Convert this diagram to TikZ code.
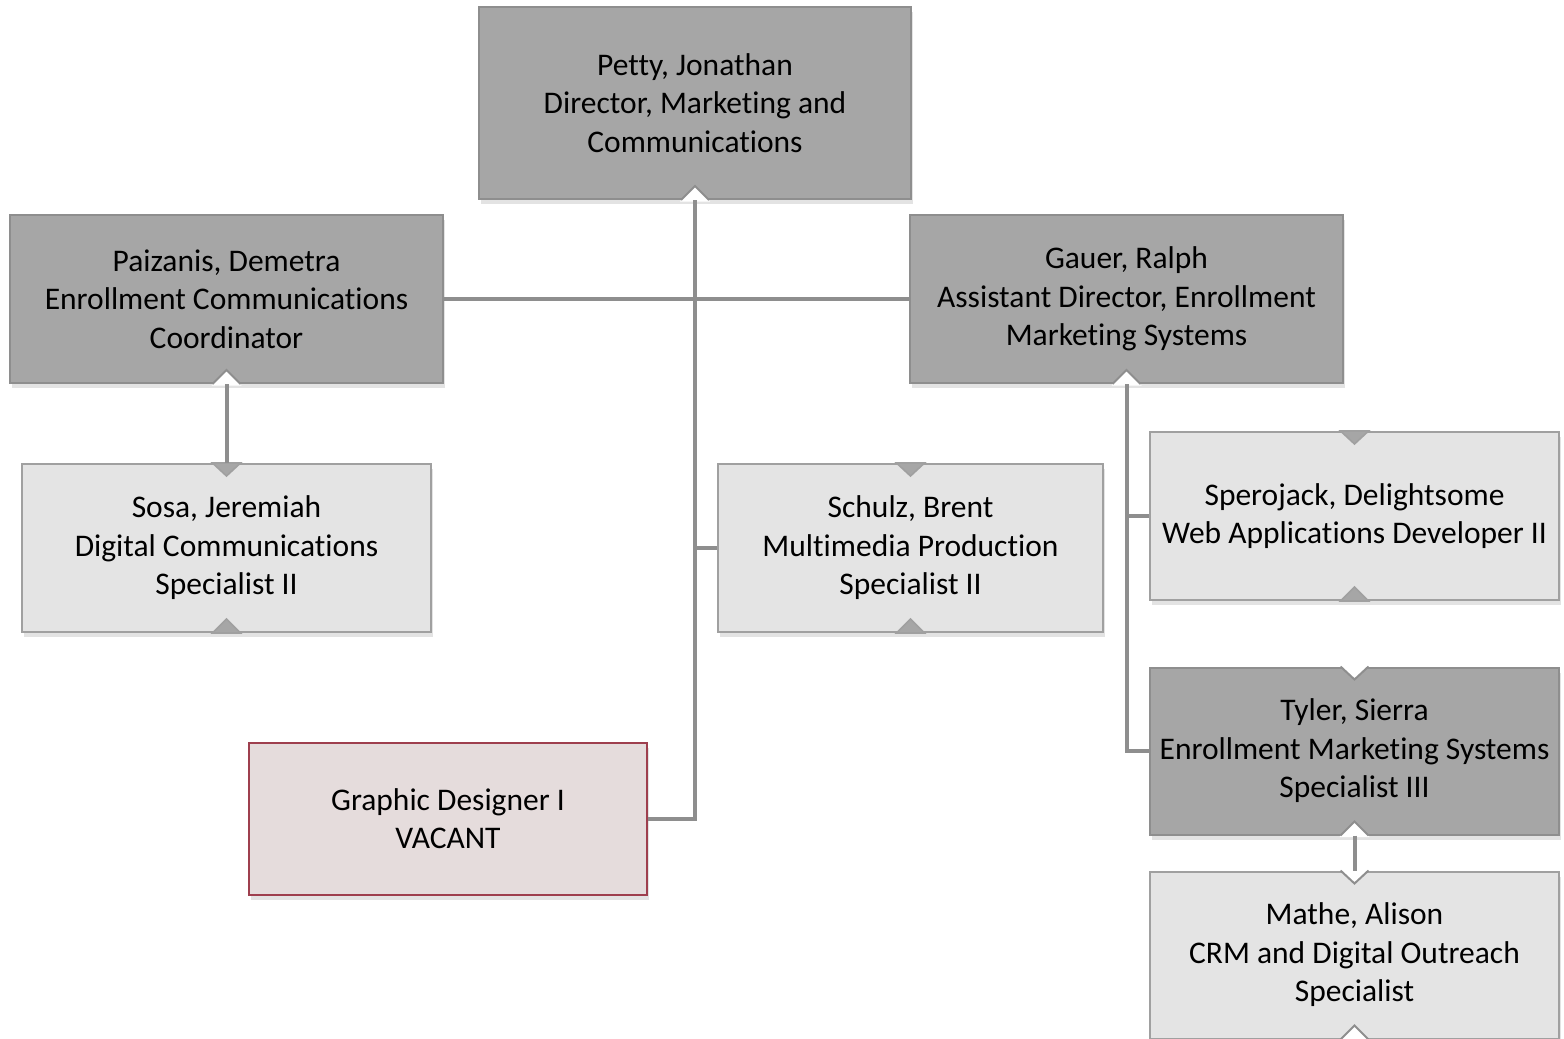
\documentclass[tikz,border=0pt]{standalone}
\usepackage{fontspec}
\setmainfont{Carlito}[RawFeature={-liga;-clig}]
\usetikzlibrary{shadows,calc}
\definecolor{darkfill}{HTML}{A6A6A6}
\definecolor{darkline}{HTML}{8E8E8E}
\definecolor{lightfill}{HTML}{E4E4E4}
\definecolor{lightline}{HTML}{A0A0A0}
\definecolor{vacfill}{HTML}{E5DCDC}
\definecolor{vacline}{HTML}{9E3F4E}
\definecolor{conn}{HTML}{8E8E8E}
\tikzset{
  box/.style={rectangle, inner sep=2pt, align=center, line width=1pt,
    font=\fontsize{15.75}{19.25}\selectfont,
    drop shadow={opacity=0.22, shadow xshift=1pt, shadow yshift=-2.5pt}},
  darkbox/.style={box, fill=darkfill, draw=darkline},
  lightbox/.style={box, fill=lightfill, draw=lightline},
  vacbox/.style={box, fill=vacfill, draw=vacline},
  connector/.style={draw=conn, line width=2pt},
  notchgray/.style={fill=darkfill, draw=lightline, line width=0.8pt}
}
\newcommand\topnotchW[1]{%
  \fill[white] ($(#1.north)+(-15,-1.5)$) -- ($(#1.north)+(0,13)$) -- ($(#1.north)+(15,-1.5)$) -- cycle;
  \draw[darkline, line width=1pt] ($(#1.north)+(-14,0)$) -- ($(#1.north)+(0,13)$) -- ($(#1.north)+(14,0)$);}
\newcommand\botnotchW[1]{%
  \fill[white] ($(#1.south)+(-15,1.5)$) -- ($(#1.south)+(0,-14)$) -- ($(#1.south)+(15,1.5)$) -- cycle;
  \draw[darkline, line width=1pt] ($(#1.south)+(-14,0)$) -- ($(#1.south)+(0,-14)$) -- ($(#1.south)+(14,0)$);}
\newcommand\topnotchG[1]{%
  \filldraw[notchgray] ($(#1.north)+(-14,0)$) -- ($(#1.north)+(0,13)$) -- ($(#1.north)+(14,0)$) -- cycle;}
\newcommand\botnotchG[1]{%
  \filldraw[notchgray] ($(#1.south)+(-14,0)$) -- ($(#1.south)+(0,-14)$) -- ($(#1.south)+(14,0)$) -- cycle;}
\begin{document}
\begin{tikzpicture}[x=0.5pt, y=-0.5pt]
\useasboundingbox (0,0) rectangle (1564,1039);

\node[darkbox, minimum width=216pt, minimum height=96pt] (petty) at (695,103)
  {Petty, Jonathan\\Director, Marketing and\\Communications};
\node[darkbox, minimum width=216.5pt, minimum height=84pt] (paiz) at (226.5,299)
  {Paizanis, Demetra\\Enrollment Communications\\Coordinator};
\node[darkbox, minimum width=216.5pt, minimum height=84pt] (gauer) at (1126.5,299)
  {Gauer, Ralph\\Assistant Director, Enrollment\\Marketing Systems};
\node[lightbox, minimum width=204.5pt, minimum height=84pt] (sosa) at (226.5,548)
  {Sosa, Jeremiah\\Digital Communications\\Specialist II};
\node[lightbox, minimum width=192.5pt, minimum height=84pt] (schulz) at (910.5,548)
  {Schulz, Brent\\Multimedia Production\\Specialist II};
\node[lightbox, minimum width=204.5pt, minimum height=84pt] (spero) at (1354.5,516)
  {Sperojack, Delightsome\\Web Applications Developer II};
\node[darkbox, minimum width=204.5pt, minimum height=83.5pt] (tyler) at (1354.5,751)
  {Tyler, Sierra\\Enrollment Marketing Systems\\Specialist III};
\node[lightbox, minimum width=204.5pt, minimum height=83.5pt] (mathe) at (1354.5,955)
  {Mathe, Alison\\CRM and Digital Outreach\\Specialist};
\node[vacbox, minimum width=199pt, minimum height=76pt] (gd) at (448,818.5)
  {Graphic Designer I\\VACANT};

% notches
\botnotchW{petty}
\botnotchW{paiz}
\botnotchW{gauer}
\topnotchG{sosa}
\botnotchG{sosa}
\topnotchG{schulz}
\botnotchG{schulz}
\topnotchG{spero}
\botnotchG{spero}
\topnotchW{tyler}
\botnotchW{tyler}
\topnotchW{mathe}
\botnotchW{mathe}

% connectors
\draw[connector] (petty.south) |- (gd.east);
\draw[connector] (petty.south |- schulz.west) -- (schulz.west);
\draw[connector] (paiz.east) -- (gauer.west);
\draw[connector] (paiz.south) -- (sosa.north);
\draw[connector] (gauer.south) |- (tyler.west);
\draw[connector] (gauer.south |- spero.west) -- (spero.west);
\draw[connector] (tyler.south) -- (mathe.north);
\end{tikzpicture}
\end{document}
